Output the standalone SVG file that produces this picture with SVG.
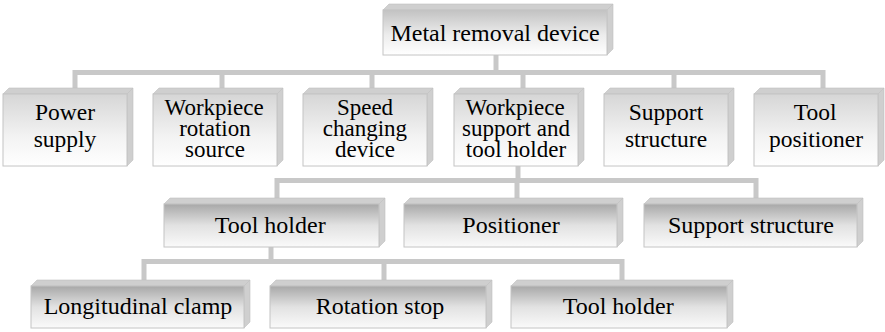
<svg xmlns="http://www.w3.org/2000/svg" width="885" height="332" viewBox="0 0 885 332">
<defs>
<linearGradient id="gTop" x1="0" y1="0" x2="0" y2="1"><stop offset="0" stop-color="#c2c2c2"/><stop offset="0.55" stop-color="#ececec"/><stop offset="1" stop-color="#ffffff"/></linearGradient>
<linearGradient id="gRow2" x1="0" y1="0" x2="0" y2="1"><stop offset="0" stop-color="#d6d6d6"/><stop offset="0.6" stop-color="#f3f3f3"/><stop offset="1" stop-color="#ffffff"/></linearGradient>
<linearGradient id="gRow3" x1="0" y1="0" x2="0" y2="1"><stop offset="0" stop-color="#a8a8a8"/><stop offset="0.5" stop-color="#e2e2e2"/><stop offset="1" stop-color="#fafafa"/></linearGradient>
<style>
.front{stroke:#c4c4c4;stroke-width:1}
.bevel{fill:#cfcfcf;stroke:#c0c0c0;stroke-width:0.6}
.conn{fill:none;stroke:#c8c8c8;stroke-width:5;stroke-linecap:butt;stroke-linejoin:miter}
</style>
</defs>

<g id="connectors">
<path class="conn" d="M496,55 V72.5"/>
<path class="conn" d="M75,90 V72.5 H823 V90"/>
<path class="conn" d="M222,72.5 V90 M372,72.5 V90 M523,72.5 V90 M674,72.5 V90"/>
<path class="conn" d="M518,166 V180.5"/>
<path class="conn" d="M277,200 V180.5 H756 V200 M517,180.5 V200"/>
<path class="conn" d="M271,247 V261.5"/>
<path class="conn" d="M144,282 V261.5 H622 V282 M384,261.5 V282"/>
</g>

<g id="n-metal-removal-device">
<polygon class="bevel" points="383,10 389,4 613,4 607,10"/>
<polygon class="bevel" points="607,10 613,4 613,49 607,55"/>
<rect class="front" x="383" y="10" width="224" height="45" fill="url(#gTop)"/>
<text x="390.4" y="41" font-family="Liberation Serif" font-size="24">Metal removal device</text>
</g>

<g id="n-power-supply">
<polygon class="bevel" points="3,94 9,88 133,88 127,94"/>
<polygon class="bevel" points="127,94 133,88 133,160 127,166"/>
<rect class="front" x="3" y="94" width="124" height="72" fill="url(#gRow2)"/>
<text x="35" y="120" font-family="Liberation Serif" font-size="23.5">Power</text>
<text x="33.7" y="147" font-family="Liberation Serif" font-size="23.5">supply</text>
</g>

<g id="n-workpiece-rotation-source">
<polygon class="bevel" points="153,94 159,88 283,88 277,94"/>
<polygon class="bevel" points="277,94 283,88 283,160 277,166"/>
<rect class="front" x="153" y="94" width="124" height="72" fill="url(#gRow2)"/>
<text x="164.6" y="115" font-family="Liberation Serif" font-size="23">Workpiece</text>
<text x="179.2" y="136" font-family="Liberation Serif" font-size="23">rotation</text>
<text x="185" y="157" font-family="Liberation Serif" font-size="23">source</text>
</g>

<g id="n-speed-changing-device">
<polygon class="bevel" points="303,94 309,88 433,88 427,94"/>
<polygon class="bevel" points="427,94 433,88 433,160 427,166"/>
<rect class="front" x="303" y="94" width="124" height="72" fill="url(#gRow2)"/>
<text x="336.9" y="115" font-family="Liberation Serif" font-size="23">Speed</text>
<text x="322.8" y="136" font-family="Liberation Serif" font-size="23">changing</text>
<text x="335" y="157" font-family="Liberation Serif" font-size="23">device</text>
</g>

<g id="n-workpiece-support-tool-holder">
<polygon class="bevel" points="454,94 460,88 584,88 578,94"/>
<polygon class="bevel" points="578,94 584,88 584,160 578,166"/>
<rect class="front" x="454" y="94" width="124" height="72" fill="url(#gRow2)"/>
<text x="465.6" y="115" font-family="Liberation Serif" font-size="23">Workpiece</text>
<text x="462" y="136" font-family="Liberation Serif" font-size="23">support and</text>
<text x="465.8" y="157" font-family="Liberation Serif" font-size="23">tool holder</text>
</g>

<g id="n-support-structure-1">
<polygon class="bevel" points="604,94 610,88 734,88 728,94"/>
<polygon class="bevel" points="728,94 734,88 734,160 728,166"/>
<rect class="front" x="604" y="94" width="124" height="72" fill="url(#gRow2)"/>
<text x="628.8" y="120" font-family="Liberation Serif" font-size="23.5">Support</text>
<text x="624.9" y="147" font-family="Liberation Serif" font-size="23.5">structure</text>
</g>

<g id="n-tool-positioner">
<polygon class="bevel" points="754,94 760,88 884,88 878,94"/>
<polygon class="bevel" points="878,94 884,88 884,160 878,166"/>
<rect class="front" x="754" y="94" width="124" height="72" fill="url(#gRow2)"/>
<text x="793.8" y="120" font-family="Liberation Serif" font-size="23.5">Tool</text>
<text x="769" y="147" font-family="Liberation Serif" font-size="23.5">positioner</text>
</g>

<g id="n-tool-holder-1">
<polygon class="bevel" points="164,204 170,198 385,198 379,204"/>
<polygon class="bevel" points="379,204 385,198 385,241 379,247"/>
<rect class="front" x="164" y="204" width="215" height="43" fill="url(#gRow3)"/>
<text x="214.7" y="233" font-family="Liberation Serif" font-size="24">Tool holder</text>
</g>

<g id="n-positioner">
<polygon class="bevel" points="404,204 410,198 623,198 617,204"/>
<polygon class="bevel" points="617,204 623,198 623,241 617,247"/>
<rect class="front" x="404" y="204" width="213" height="43" fill="url(#gRow3)"/>
<text x="462.3" y="233" font-family="Liberation Serif" font-size="24">Positioner</text>
</g>

<g id="n-support-structure-2">
<polygon class="bevel" points="644,204 650,198 863,198 857,204"/>
<polygon class="bevel" points="857,204 863,198 863,241 857,247"/>
<rect class="front" x="644" y="204" width="213" height="43" fill="url(#gRow3)"/>
<text x="668" y="233" font-family="Liberation Serif" font-size="24">Support structure</text>
</g>

<g id="n-longitudinal-clamp">
<polygon class="bevel" points="31,286 37,280 250,280 244,286"/>
<polygon class="bevel" points="244,286 250,280 250,322 244,328"/>
<rect class="front" x="31" y="286" width="213" height="42" fill="url(#gRow3)"/>
<text x="43.7" y="314" font-family="Liberation Serif" font-size="24">Longitudinal clamp</text>
</g>

<g id="n-rotation-stop">
<polygon class="bevel" points="270,286 276,280 492,280 486,286"/>
<polygon class="bevel" points="486,286 492,280 492,322 486,328"/>
<rect class="front" x="270" y="286" width="216" height="42" fill="url(#gRow3)"/>
<text x="315.7" y="314" font-family="Liberation Serif" font-size="24">Rotation stop</text>
</g>

<g id="n-tool-holder-2">
<polygon class="bevel" points="511,286 517,280 733,280 727,286"/>
<polygon class="bevel" points="727,286 733,280 733,322 727,328"/>
<rect class="front" x="511" y="286" width="216" height="42" fill="url(#gRow3)"/>
<text x="562.7" y="314" font-family="Liberation Serif" font-size="24">Tool holder</text>
</g>
</svg>
